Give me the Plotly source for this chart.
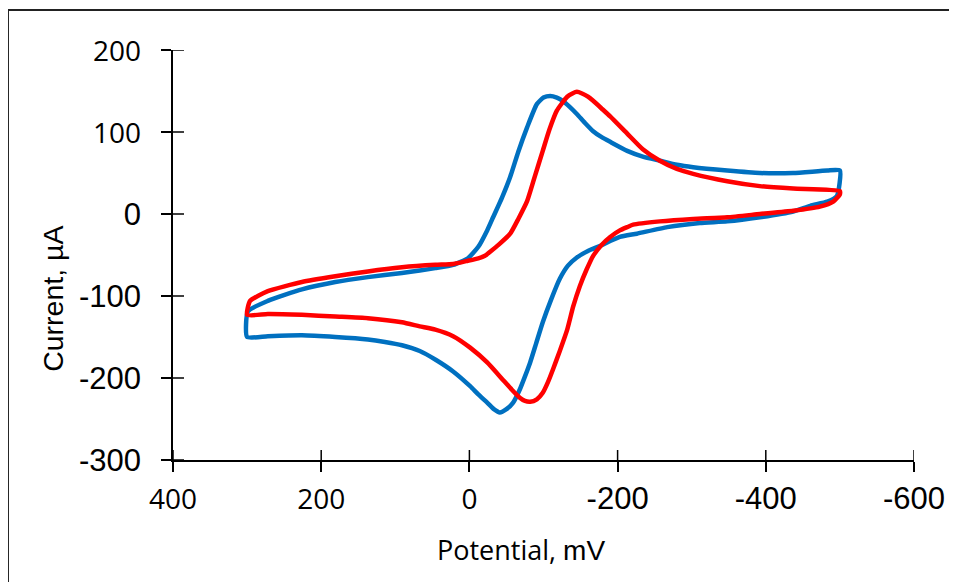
import plotly.graph_objects as go

# Blue cyclic voltammogram (potential mV, current uA), traced along the loop
blue_potential = [300, 299, 272, 226, 181, 137, 91, 67, 46, 22, 2, -12, -24, -32, -44, -55, -66, -78,
                  -91, -100, -109, -118, -126, -135, -145, -156, -167, -178, -190, -213, -234, -257,
                  -280, -302, -348, -392, -437, -483, -500,
                  -496, -483, -460, -437, -392, -348, -311, -267, -226, -203, -176, -160, -145, -133,
                  -122, -110, -99, -90, -82, -75, -68, -59, -50, -41, -33, -24, -12, -1, 22, 45, 67,
                  91, 114, 137, 181, 226, 272, 300]
blue_current = [-150, -119, -106, -92, -83, -77, -72, -69, -66, -62, -54, -40, -20, -4, 20, 45, 76, 106,
                134, 142, 144, 142, 138, 131, 122, 111, 101, 94, 88, 77, 70, 65,
                60, 57, 53, 50, 50, 53, 53,
                22, 15, 10, 3, -4, -9, -11, -16, -24, -28, -39, -45, -53, -63,
                -79, -105, -132, -158, -181, -198, -214, -230, -238, -242, -238, -230, -220, -210, -192, -178, -167,
                -160, -156, -153, -150, -148, -149, -150]

# Red cyclic voltammogram
red_potential = [300, 296, 272, 226, 181, 137, 91, 46, 22, 2, -12, -21, -28, -40, -55, -66, -78, -88,
                 -99, -108, -118, -132, -139, -145, -152, -160, -167, -178, -190, -213,
                 -234, -257, -280, -302, -348, -392, -437, -500,
                 -500, -491, -473, -437, -392, -348, -302, -257, -221, -213, -203, -190, -178, -167,
                 -158, -149, -140, -132, -122, -113, -106, -99, -91, -82, -75, -68, -57, -45, -24,
                 -1, 22, 46, 67, 91, 137, 181, 226, 272, 300]
red_current = [-123, -106, -94, -83, -76, -70, -65, -62, -61, -57, -54, -51, -46, -37, -24, -6, 16, 45,
               77, 103, 126, 143, 147, 149, 147, 143, 138, 129, 119, 98,
               79, 65, 55, 49, 40, 34, 31, 28,
               24, 15, 9, 4, 0, -4, -6, -9, -13, -16, -20, -28, -38, -51,
               -68, -88, -113, -141, -167, -189, -205, -218, -226, -229, -228, -224, -214, -202, -181,
               -163, -149, -141, -137, -132, -127, -125, -123, -122, -123]

x_tick_vals = [400, 200, 0, -200, -400, -600]
x_tick_labels = ["400", "200", "0", "-200", "-400", "-600"]
y_tick_vals = [200, 100, 0, -100, -200, -300]
y_tick_labels = ["200", "100", "0", "-100", "-200", "-300"]

CAL = "Open Sans"
ARI = "Liberation Sans, Arial"


def styled(label, calibri):
    if calibri:
        return f'<span style="font-family:{CAL};font-size:28px">{label}</span>'
    return label


x_ticktext = [styled(t, t in ("400", "200", "0")) for t in x_tick_labels]
y_ticktext = [styled(t, t in ("200", "100")) for t in y_tick_labels]

fig = go.Figure()
fig.add_trace(go.Scatter(x=blue_potential, y=blue_current, mode="lines",
                         line=dict(color="#0070C0", width=4.5, shape="spline", smoothing=0.5),
                         showlegend=False))
fig.add_trace(go.Scatter(x=red_potential, y=red_current, mode="lines",
                         line=dict(color="#FF0000", width=4.5, shape="spline", smoothing=0.5),
                         showlegend=False))

axis_common = dict(showgrid=False, zeroline=False, showline=True, linecolor="black",
                   linewidth=1.5, tickcolor="black", tickwidth=1.5, ticklen=10)

# cross-style tick marks (half inside, half outside the axis line)
tick_shapes = []
for v in x_tick_vals:
    tick_shapes.append(dict(type="line", xref="x", yref="y", x0=v, x1=v,
                            ysizemode="pixel", yanchor=-300, y0=-10, y1=10,
                            line=dict(color="black", width=1.5)))
for v in y_tick_vals:
    tick_shapes.append(dict(type="line", xref="x", yref="y", y0=v, y1=v,
                            xsizemode="pixel", xanchor=400, x0=-11, x1=11,
                            line=dict(color="black", width=1.5)))

frame = dict(type="rect", xref="paper", yref="paper", x0=-0.2227, y0=-0.4, x1=1.2, y1=1.0976,
             line=dict(color="#222222", width=2), layer="below")

fig.update_layout(
    width=957, height=582,
    margin=dict(l=165, r=51, t=42, b=130),
    paper_bgcolor="white", plot_bgcolor="white",
    font=dict(family=ARI, color="black"),
    xaxis=dict(range=[400, -600], tickvals=x_tick_vals, ticktext=x_ticktext,
               ticks="outside", tickfont=dict(size=31, family=ARI), ticklabelstandoff=0,
               **axis_common),
    yaxis=dict(range=[-300, 200], tickvals=y_tick_vals, ticktext=y_ticktext,
               ticks="outside", tickfont=dict(size=31, family=ARI), ticklabelstandoff=14,
               **axis_common),
    annotations=[
        dict(xref="paper", yref="paper", x=0.4696, y=-0.2195, xanchor="center", yanchor="middle",
             showarrow=False,
             text=f'<span style="font-family:{CAL};font-size:27px">Potential, </span>'
                  f'<span style="font-size:28px">mV</span>'),
        dict(xref="paper", yref="paper", x=-0.162, y=0.393, xanchor="center", yanchor="middle",
             showarrow=False, textangle=-90, text="Current, µA", font=dict(size=28.5, family=ARI)),
    ],
    shapes=[frame] + tick_shapes,
)

fig.write_html("out.html")
